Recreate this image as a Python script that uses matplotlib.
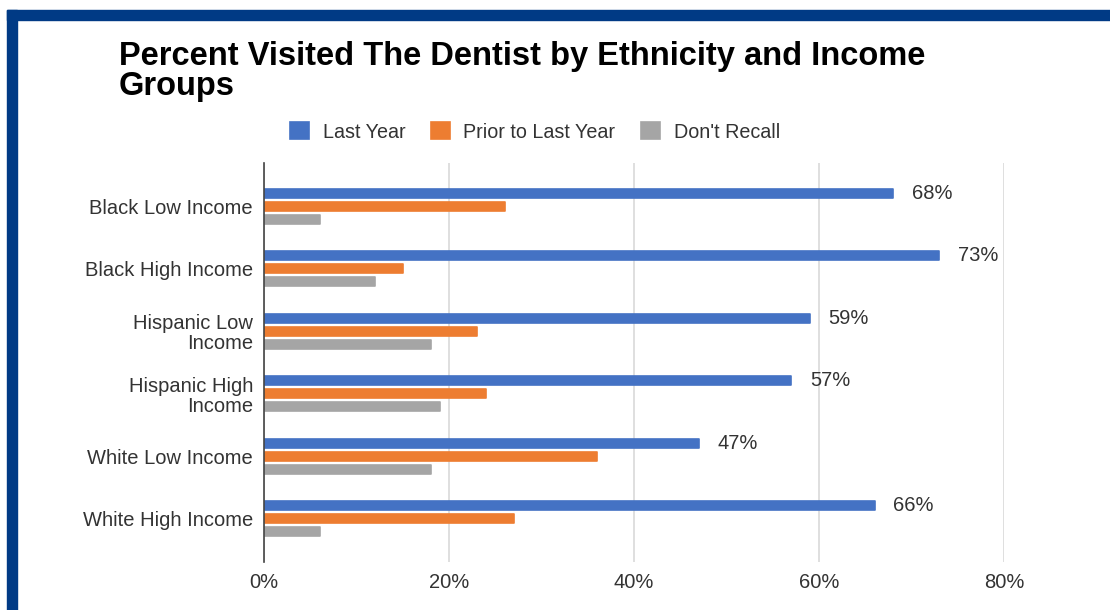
import numpy as np
import matplotlib.pyplot as plt
from matplotlib.patches import Rectangle

plt.rcParams['font.family'] = ['Liberation Sans', 'DejaVu Sans']

groups = ["Black Low Income", "Black High Income", "Hispanic Low\nIncome",
          "Hispanic High\nIncome", "White Low Income", "White High Income"]
last_year = [68, 73, 59, 57, 47, 66]
prior_year = [26, 15, 23, 24, 36, 27]
dont_recall = [6, 12, 18, 19, 18, 6]
x_ticks = [0, 20, 40, 60, 80]

series = [
    ("Last Year", last_year, "#4472C4"),
    ("Prior to Last Year", prior_year, "#ED7D31"),
    ("Don't Recall", dont_recall, "#A5A5A5"),
]

fig = plt.figure(figsize=(11.1, 6.1), dpi=100)
ax = fig.add_axes([264 / 1110, 48 / 610, 740 / 1110, 399 / 610])

y = np.arange(len(groups))
h = 0.14
step = 0.208
for i, (name, vals, col) in enumerate(series):
    ax.barh(y + (i - 1) * step, vals, height=h, color=col, edgecolor=col,
            linewidth=1.2, joinstyle="round", label=name, zorder=3)

# value labels on the "Last Year" bars
for yi, v in zip(y, last_year):
    ax.annotate(f"{v}%", (v, yi - step), xytext=(13.5, 0), textcoords="offset points",
                va="center", ha="left", fontsize=14.5, color="#333333")

ax.set_xlim(0, 80)
ax.set_ylim(len(groups) - 1 + 0.69, -0.69)
ax.set_xticks(x_ticks)
ax.set_xticklabels([f"{t}%" for t in x_ticks])
ax.set_yticks(y)
ax.set_yticklabels(groups, fontsize=14.5, color="#333333", linespacing=1.05)
ax.tick_params(axis="x", length=0, pad=8, labelsize=14.5, labelcolor="#333333")
ax.tick_params(axis="y", length=0, pad=8)
ax.grid(axis="x", color="#D9D9D9", linewidth=1.2, zorder=0)
for s in ["top", "right", "bottom"]:
    ax.spines[s].set_visible(False)
ax.spines["left"].set_color("#444444")
ax.spines["left"].set_linewidth(1.2)
ax.spines["left"].set_zorder(4)

fig.text(119 / 1110, 1 - 41 / 610,
         "Percent Visited The Dentist by Ethnicity and Income\nGroups",
         fontsize=23.5, fontweight="bold", va="top", ha="left", linespacing=0.95)

leg = fig.legend(loc="center", bbox_to_anchor=(535 / 1110, 1 - 132 / 610), ncol=3,
                 frameon=False, fontsize=14.2, handlelength=0.95, handleheight=0.95,
                 columnspacing=1.3, handletextpad=0.7)
for t in leg.get_texts():
    t.set_color("#333333")

# dark blue frame along the top and left edges
frame = "#003A85"
fig.patches.append(Rectangle((7 / 1110, 1 - 20 / 610), 1, 10 / 610,
                             transform=fig.transFigure, color=frame, zorder=10))
fig.patches.append(Rectangle((7 / 1110, 0), 10 / 1110, 1 - 10 / 610,
                             transform=fig.transFigure, color=frame, zorder=10))

fig.savefig("out.png", dpi=100)
